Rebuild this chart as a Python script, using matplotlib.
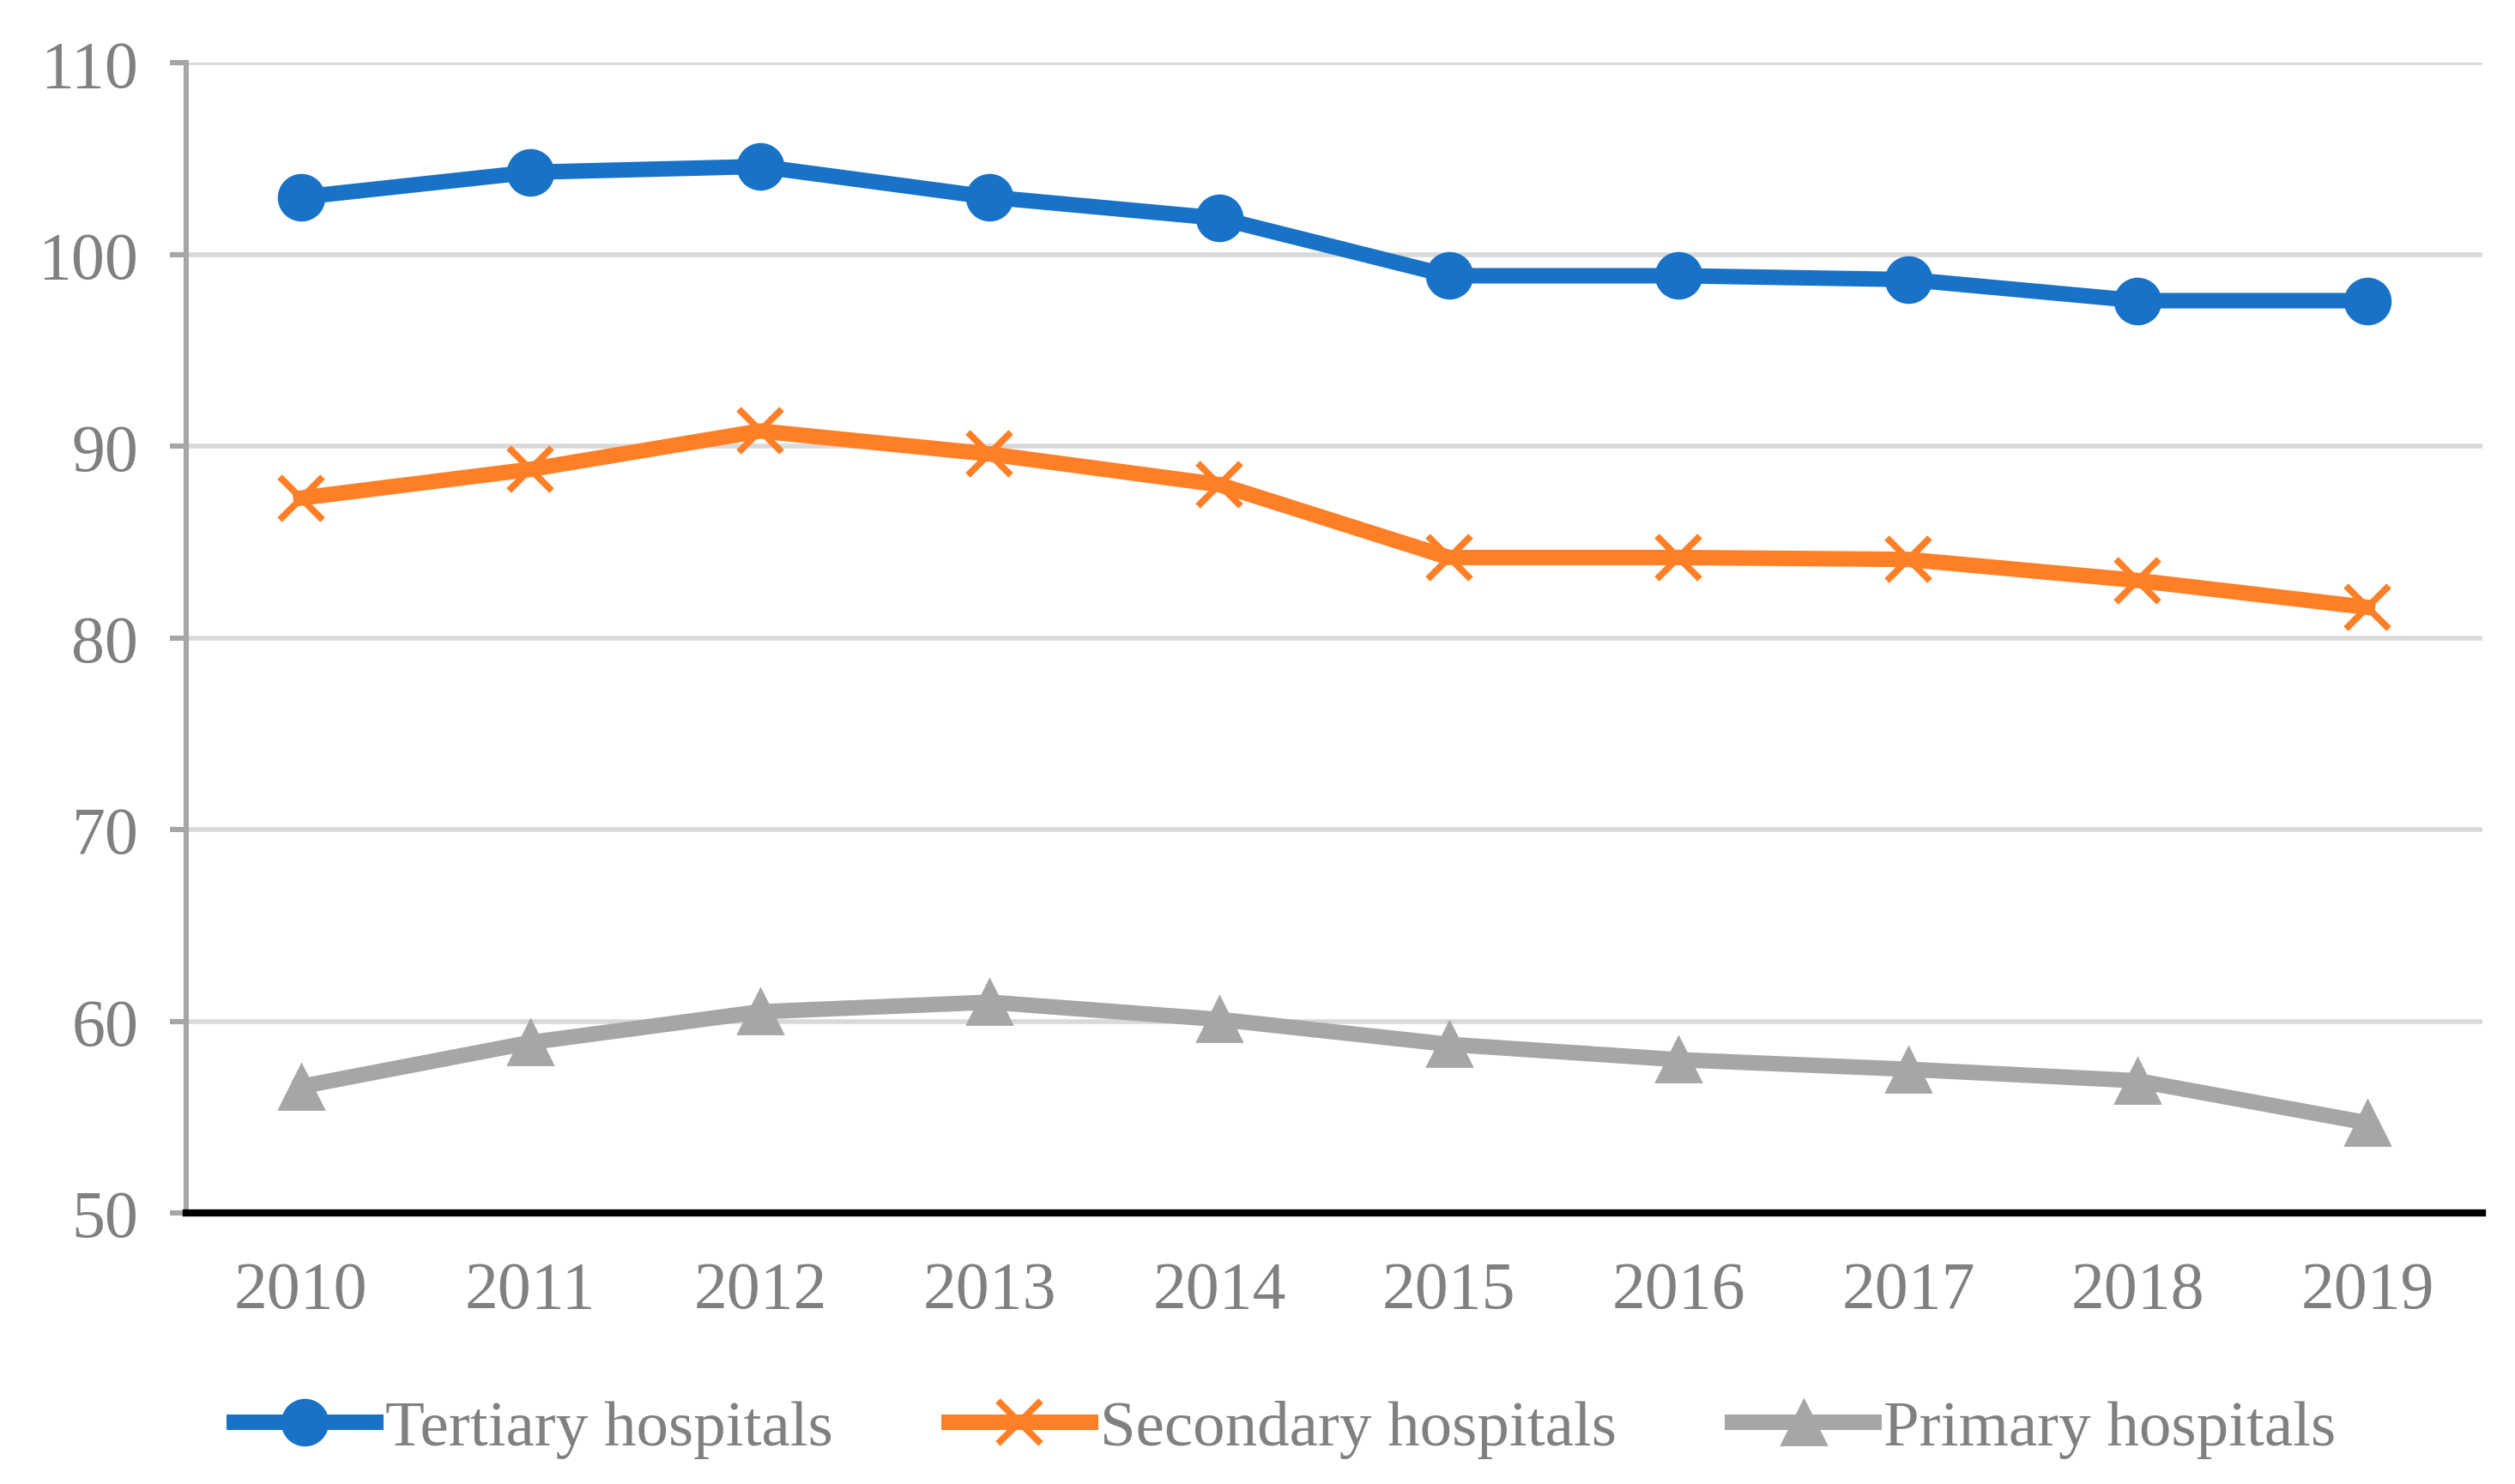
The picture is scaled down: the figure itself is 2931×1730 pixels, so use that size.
import numpy as np
import matplotlib.pyplot as plt

years = ['2010', '2011', '2012', '2013', '2014', '2015', '2016', '2017', '2018', '2019']
tertiary = [103.0, 104.3, 104.6, 103.0, 101.9, 98.9, 98.9, 98.7, 97.6, 97.6]
secondary = [87.3, 88.8, 90.8, 89.6, 88.0, 84.2, 84.2, 84.1, 83.0, 81.6]
primary = [56.6, 58.9, 60.5, 61.0, 60.1, 58.8, 58.0, 57.5, 56.9, 54.7]

plt.rcParams['font.family'] = ['Liberation Serif', 'DejaVu Serif']

fig = plt.figure(figsize=(14.655, 8.655), dpi=200)
ax = fig.add_axes([0.074, 0.1825, 0.913, 0.7745])

x = np.arange(len(years))
ax.plot(x, tertiary, color='#1872C8', lw=6.5, marker='o', ms=19,
        label='Tertiary hospitals', zorder=3)
ax.plot(x, secondary, color='#FF7F27', lw=6.5, marker='x', ms=18, mew=2.8,
        label='Secondary hospitals', zorder=3)
ax.plot(x, primary, color='#A6A6A6', lw=6.5, marker='^', ms=19,
        label='Primary hospitals', zorder=3)

ax.set_xlim(-0.5, len(years) - 0.5)
ax.set_ylim(50, 110)
ax.set_yticks(np.arange(50, 111, 10))
ax.set_xticks(x)
ax.set_xticklabels(years)

ax.grid(axis='y', color='#D9D9D9', lw=2.0, zorder=0)
ax.set_axisbelow(True)
for s in ['top', 'right']:
    ax.spines[s].set_visible(False)
ax.spines['left'].set_color('#A6A6A6')
ax.spines['left'].set_linewidth(2.2)
ax.spines['bottom'].set_color('black')
ax.spines['bottom'].set_linewidth(3.0)
ax.spines['bottom'].set_zorder(4)

ax.tick_params(axis='y', colors='#A6A6A6', length=7, width=2.2, pad=13,
               labelcolor='#808080', labelsize=28)
ax.tick_params(axis='x', length=0, pad=20, labelcolor='#808080', labelsize=28)

fig.legend(loc='center', bbox_to_anchor=(0.511, 0.037), ncol=3, frameon=False,
           fontsize=27, labelcolor='#808080', handlelength=2.2,
           handletextpad=0.15, columnspacing=1.8)

fig.savefig('out.png', dpi=200)
plt.close(fig)
